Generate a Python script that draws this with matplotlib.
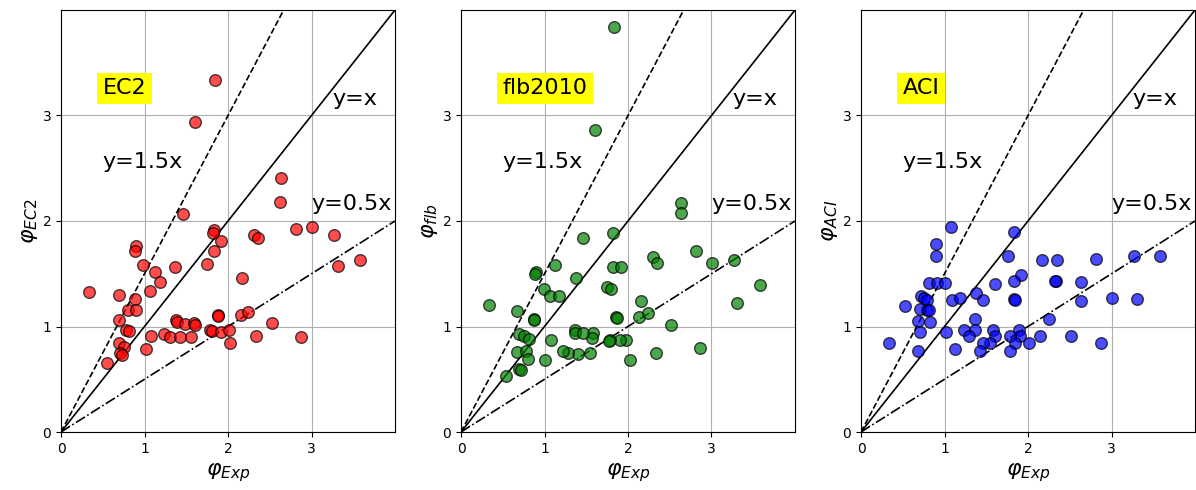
import numpy as np
import matplotlib
matplotlib.use('Agg')
import matplotlib.pyplot as plt

# EC2 panel
x_ec2 = [1.84, 1.61, 2.63, 2.62, 1.46, 1.83, 1.82, 1.92, 1.83, 1.75, 2.31, 2.36,
         2.82, 3.00, 3.27, 3.32, 3.58, 2.17, 0.90, 0.89, 0.98, 1.13, 1.37, 1.18,
         1.07, 0.34, 0.69, 0.89, 0.80, 0.90, 0.69, 0.78, 0.82, 0.69, 0.75, 0.71,
         0.73, 0.55, 1.02, 1.08, 1.23, 1.30, 1.38, 1.39, 1.42, 1.48, 1.56, 1.59,
         1.60, 1.79, 1.81, 1.88, 1.88, 1.92, 2.01, 2.02, 2.15, 2.24, 2.34, 2.53,
         2.87]
y_ec2 = [3.34, 2.94, 2.41, 2.18, 2.07, 1.91, 1.89, 1.81, 1.72, 1.59, 1.87, 1.84,
         1.92, 1.94, 1.87, 1.57, 1.63, 1.46, 1.76, 1.72, 1.58, 1.52, 1.56, 1.42,
         1.34, 1.33, 1.30, 1.26, 1.16, 1.16, 1.06, 0.97, 0.96, 0.84, 0.81, 0.75,
         0.73, 0.65, 0.79, 0.91, 0.93, 0.90, 1.06, 1.04, 0.90, 1.02, 0.90, 1.03,
         1.01, 0.97, 0.96, 1.11, 1.10, 0.95, 0.97, 0.84, 1.11, 1.14, 0.91, 1.03,
         0.90]

# fib2010 panel
x_flb = [1.83, 1.60, 2.63, 2.64, 1.46, 1.82, 2.30, 2.35, 2.82, 3.01, 3.27, 3.58,
         3.31, 2.16, 1.82, 1.92, 1.75, 1.80, 1.12, 0.90, 0.89, 1.38, 0.99, 1.06,
         1.17, 0.34, 0.67, 0.88, 0.88, 1.86, 1.87, 2.13, 2.24, 2.51, 2.86, 2.34,
         2.02, 1.98, 1.91, 1.78, 1.77, 1.58, 1.57, 1.36, 1.36, 1.46, 1.55, 1.40,
         1.28, 1.22, 1.08, 1.01, 0.70, 0.75, 0.81, 0.67, 0.78, 0.80, 0.70, 0.72,
         0.54]
y_flb = [3.84, 2.86, 2.17, 2.08, 1.84, 1.89, 1.66, 1.60, 1.72, 1.60, 1.63, 1.39,
         1.22, 1.24, 1.56, 1.56, 1.37, 1.36, 1.58, 1.52, 1.50, 1.46, 1.36, 1.29,
         1.29, 1.20, 1.15, 1.07, 1.06, 1.09, 1.08, 1.09, 1.13, 1.01, 0.80, 0.75,
         0.68, 0.87, 0.87, 0.87, 0.86, 0.94, 0.89, 0.97, 0.94, 0.94, 0.75, 0.74,
         0.75, 0.77, 0.87, 0.68, 0.93, 0.91, 0.88, 0.76, 0.77, 0.69, 0.60, 0.59,
         0.53]

# ACI panel
x_aci = [1.08, 1.83, 0.90, 0.90, 1.76, 2.17, 2.35, 2.81, 3.27, 3.58, 1.92, 1.83,
         2.33, 2.32, 2.64, 1.61, 1.38, 0.81, 0.91, 1.00, 0.72, 0.75, 0.79, 1.09,
         1.18, 1.46, 1.83, 1.84, 2.64, 3.00, 3.31, 0.53, 0.71, 0.79, 0.81, 0.68,
         0.83, 1.36, 2.25, 0.71, 1.02, 1.23, 1.36, 1.29, 1.58, 1.60, 1.89, 1.90,
         1.78, 2.14, 2.52, 2.87, 2.01, 1.85, 1.79, 1.55, 1.46, 1.43, 1.12, 0.68,
         0.34]
y_aci = [1.94, 1.90, 1.78, 1.67, 1.67, 1.63, 1.63, 1.64, 1.67, 1.67, 1.49, 1.43,
         1.43, 1.43, 1.42, 1.40, 1.32, 1.41, 1.41, 1.41, 1.29, 1.27, 1.25, 1.25,
         1.27, 1.25, 1.26, 1.25, 1.24, 1.27, 1.26, 1.19, 1.17, 1.16, 1.16, 1.05,
         1.04, 1.07, 1.07, 0.95, 0.95, 0.97, 0.97, 0.91, 0.97, 0.91, 0.97, 0.91,
         0.91, 0.91, 0.91, 0.84, 0.84, 0.84, 0.77, 0.84, 0.84, 0.77, 0.79, 0.77,
         0.84]

panels = [
    (x_ec2, y_ec2, 'red', 'EC2', r'$\varphi_{EC2}$'),
    (x_flb, y_flb, 'green', 'flb2010', r'$\varphi_{flb}$'),
    (x_aci, y_aci, 'blue', 'ACI', r'$\varphi_{ACI}$'),
]

fig = plt.figure(figsize=(11.96, 4.9), dpi=100)
xl = np.array([0, 4])

for i, (xs, ys, col, name, ylab) in enumerate(panels):
    ax = fig.add_axes([(61 + 400 * i) / 1196, 58 / 490, 334 / 1196, 422 / 490])
    ax.scatter(xs, ys, s=70, c=col, alpha=0.7, edgecolors='k', zorder=3)
    ax.plot(xl, 1.5 * xl, 'k--', lw=1.2)
    ax.plot(xl, xl, 'k-', lw=1.2)
    ax.plot(xl, 0.5 * xl, 'k-.', lw=1.2)
    ax.text(0.5, 3.2, name, fontsize=16, bbox=dict(facecolor='yellow', edgecolor='none'))
    ax.text(3.25, 3.1, 'y=x', fontsize=16)
    ax.text(0.5, 2.5, 'y=1.5x', fontsize=16)
    ax.text(3.0, 2.1, 'y=0.5x', fontsize=16)
    ax.set_xlim(0, 4)
    ax.set_ylim(0, 4)
    ax.set_xticks([0, 1, 2, 3])
    ax.set_yticks([0, 1, 2, 3])
    ax.grid(True)
    ax.set_axisbelow(True)
    ax.set_xlabel(r'$\varphi_{Exp}$', fontsize=16)
    ax.set_ylabel(ylab, fontsize=16, labelpad=2)

fig.savefig('out.png', dpi=100)
